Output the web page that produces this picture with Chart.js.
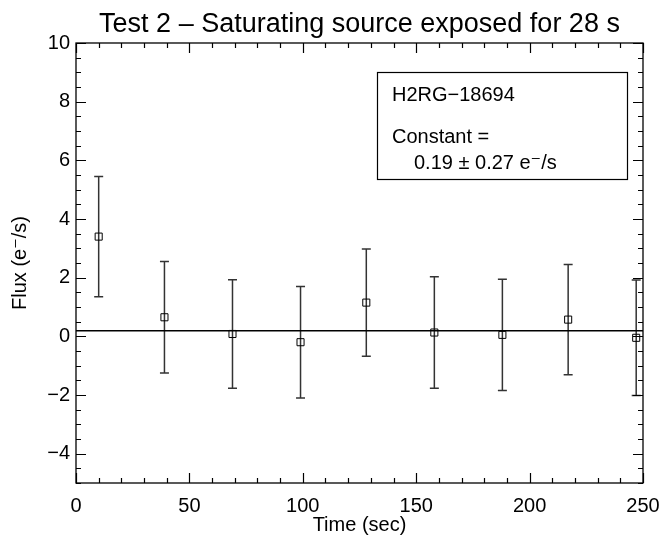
<!DOCTYPE html>
<html>
<head>
<meta charset="utf-8">
<script src="https://cdn.jsdelivr.net/npm/chart.js@4"></script>
<style>
  html, body { margin: 0; padding: 0; background: #fff; }
  canvas { display: block; }
</style>
</head>
<body>
<canvas id="c" width="664" height="537"></canvas>
<script>
// ---- data ----
const times = [10, 39, 69, 99, 128, 158, 188, 217, 247];
const flux = [3.40, 0.65, 0.08, -0.20, 1.15, 0.13, 0.05, 0.57, -0.05];
const fluxErr = [2.05, 1.90, 1.85, 1.90, 1.83, 1.90, 1.90, 1.88, 1.97];
const constantFit = 0.19;
const xRange = [0, 250];
const yRange = [-5, 10];
const xTickVals = [0, 50, 100, 150, 200, 250];
const yTickVals = [-4, -2, 0, 2, 4, 6, 8, 10];
const xMinorStep = 10;
const yMinorStep = 0.5;
const titleText = 'Test 2 \u2013 Saturating source exposed for 28 s';
const xTitle = 'Time (sec)';
const yTitle = 'Flux (e\u207B/s)';
const legendLines = ['H2RG\u221218694', 'Constant =', '0.19 \u00B1 0.27 e\u207B/s'];

const FONT = '"Liberation Sans", Arial, Helvetica, "DejaVu Sans", sans-serif';

const points = times.map((t, i) => ({ x: t, y: flux[i] }));
const fitLine = xRange.map(x => ({ x: x, y: constantFit }));

const idlPlugin = {
  id: 'idl',
  beforeDatasetsDraw(chart) {
    const ctx = chart.ctx;
    const xs = chart.scales.x, ys = chart.scales.y;
    ctx.save();
    ctx.strokeStyle = '#333';
    ctx.lineWidth = 1.5;
    const cap = 4.5;
    times.forEach((t, i) => {
      const px = xs.getPixelForValue(t);
      const pTop = ys.getPixelForValue(flux[i] + fluxErr[i]);
      const pBot = ys.getPixelForValue(flux[i] - fluxErr[i]);
      ctx.beginPath();
      ctx.moveTo(px, pTop); ctx.lineTo(px, pBot);
      ctx.moveTo(px - cap, pTop); ctx.lineTo(px + cap, pTop);
      ctx.moveTo(px - cap, pBot); ctx.lineTo(px + cap, pBot);
      ctx.stroke();
    });
    ctx.restore();
  },
  afterDraw(chart) {
    const ctx = chart.ctx;
    const a = chart.chartArea;
    const xs = chart.scales.x, ys = chart.scales.y;
    ctx.save();
    // frame
    ctx.strokeStyle = '#000';
    ctx.lineWidth = 1.3;
    ctx.strokeRect(a.left, a.top, a.right - a.left, a.bottom - a.top);
    // inward ticks on all sides
    ctx.lineWidth = 1.2;
    ctx.beginPath();
    const majL = 10, minL = 5;
    for (let v = xRange[0]; v <= xRange[1] + 1e-9; v += xMinorStep) {
      const px = Math.round(xs.getPixelForValue(v)) + 0.5;
      const L = xTickVals.includes(Math.round(v)) ? majL : minL;
      ctx.moveTo(px, a.bottom); ctx.lineTo(px, a.bottom - L);
      ctx.moveTo(px, a.top); ctx.lineTo(px, a.top + L);
    }
    for (let v = yRange[0]; v <= yRange[1] + 1e-9; v += yMinorStep) {
      const py = Math.round(ys.getPixelForValue(v)) + 0.5;
      const isMaj = Math.abs(v / 2 - Math.round(v / 2)) < 1e-9;
      const L = isMaj ? majL : minL;
      ctx.moveTo(a.left, py); ctx.lineTo(a.left + L, py);
      ctx.moveTo(a.right, py); ctx.lineTo(a.right - L, py);
    }
    ctx.stroke();

    // title
    ctx.fillStyle = '#000';
    ctx.font = '27px ' + FONT;
    ctx.textAlign = 'center';
    ctx.textBaseline = 'alphabetic';
    ctx.fillText(titleText, (a.left + a.right) / 2, 32);

    // legend box
    const bx = 377, by = 72, bw = 250, bh = 107;
    ctx.lineWidth = 1.2;
    ctx.fillStyle = '#fff';
    ctx.fillRect(bx, by, bw, bh);
    ctx.strokeRect(bx + 0.5, by + 0.5, bw, bh);
    ctx.fillStyle = '#000';
    ctx.font = '20px ' + FONT;
    ctx.textAlign = 'left';
    ctx.fillText(legendLines[0], bx + 15, by + 29);
    ctx.fillText(legendLines[1], bx + 15, by + 71);
    ctx.fillText(legendLines[2], bx + 37, by + 97);
    ctx.restore();
  }
};

new Chart(document.getElementById('c'), {
  type: 'scatter',
  data: {
    datasets: [
      {
        label: 'fit',
        type: 'line',
        data: fitLine,
        borderColor: '#000',
        borderWidth: 1.3,
        pointRadius: 0,
        fill: false,
        order: 2
      },
      {
        label: 'flux',
        data: points,
        pointStyle: 'rect',
        pointRadius: 5,
        borderColor: '#000',
        backgroundColor: 'rgba(0,0,0,0)',
        borderWidth: 1,
        order: 1
      }
    ]
  },
  options: {
    responsive: false,
    animation: false,
    devicePixelRatio: 1,
    layout: { padding: { top: 43, right: 21, left: 0, bottom: 0 } },
    plugins: {
      legend: { display: false },
      tooltip: { enabled: false },
      title: { display: false }
    },
    scales: {
      x: {
        type: 'linear',
        min: xRange[0], max: xRange[1],
        afterBuildTicks: s => { s.ticks = xTickVals.map(v => ({ value: v })); },
        afterFit: s => { s.height = 54; s.paddingRight = 0; s.paddingLeft = 0; },
        grid: { display: false, drawTicks: false },
        border: { display: false },
        ticks: {
          color: '#000', font: { family: FONT, size: 20 }, padding: 11,
          maxRotation: 0, autoSkip: false,
          callback: v => String(v)
        },
        title: { display: true, text: xTitle, color: '#000', font: { family: FONT, size: 20 }, padding: { top: 0, bottom: 0 } }
      },
      y: {
        type: 'linear',
        min: yRange[0], max: yRange[1],
        afterBuildTicks: s => { s.ticks = yTickVals.map(v => ({ value: v })); },
        afterFit: s => { s.width = 76; },
        grid: { display: false, drawTicks: false },
        border: { display: false },
        ticks: {
          color: '#000', font: { family: FONT, size: 20 }, padding: 6,
          autoSkip: false,
          callback: v => (v < 0 ? '\u2212' + Math.abs(v) : String(v))
        },
        title: { display: true, text: yTitle, color: '#000', font: { family: FONT, size: 20 }, padding: { top: 8, bottom: 0 } }
      }
    }
  },
  plugins: [idlPlugin]
});
</script>
</body>
</html>
